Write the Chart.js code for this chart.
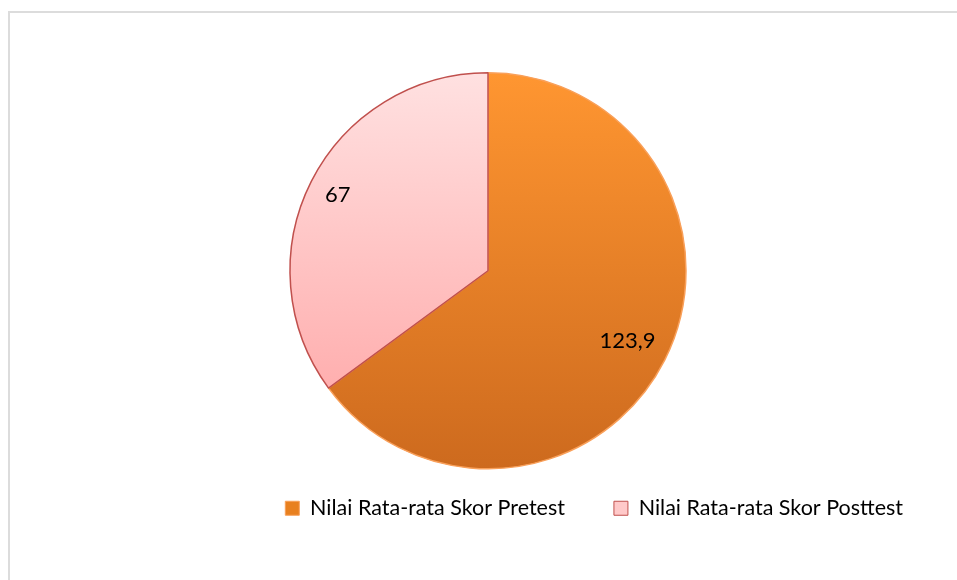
<!DOCTYPE html>
<html>
<head>
<meta charset="utf-8">
<script src="https://cdn.jsdelivr.net/npm/chart.js@4"></script>
<style>
  body { margin: 0; background: #fff; }
  #wrap { position: relative; width: 957px; height: 580px; overflow: hidden; }
  #frame { position: absolute; left: 8px; top: 11px; width: 1000px; height: 1000px; border: 2px solid #dcdcdc; }
  #pie { position: absolute; left: 0; top: 0; }
</style>
</head>
<body>
<div id="wrap">
  <div id="frame"></div>
  <canvas id="pie" width="957" height="580"></canvas>
</div>
<script>
var kategori = ['Nilai Rata-rata Skor Pretest', 'Nilai Rata-rata Skor Posttest'];
var nilai = [123.9, 67];

var warna_atas = ['#ff9631', '#ffe1e1'];
var warna_bawah = ['#cd6a1e', '#ffa2a2'];
var warna_garis = ['#f9a05a', '#c0504d'];
var warna_legend = ['#e8801f', '#ffc9c9'];

function gradien(context) {
    var chart = context.chart;
    var area = chart.chartArea;
    if (!area) return warna_atas[context.dataIndex];
    var g = chart.ctx.createLinearGradient(0, area.top, 0, area.bottom);
    g.addColorStop(0, warna_atas[context.dataIndex]);
    g.addColorStop(1, warna_bawah[context.dataIndex]);
    return g;
}

// posisi label di dalam irisan (rasio jari-jari)
var rasio_label = [0.79, 0.85];

const labelPlugin = {
    id: 'labelNilai',
    afterDatasetsDraw(chart) {
        const ctx = chart.ctx;
        const meta = chart.getDatasetMeta(0);
        ctx.save();
        ctx.font = '22px Lato, sans-serif';
        ctx.fillStyle = '#000';
        ctx.textAlign = 'center';
        ctx.textBaseline = 'middle';
        meta.data.forEach(function (arc, i) {
            const p = arc.getProps(['x', 'y', 'startAngle', 'endAngle', 'outerRadius'], true);
            const sudut = (p.startAngle + p.endAngle) / 2;
            const r = p.outerRadius * rasio_label[i];
            const teks = String(nilai[i]).replace('.', ',');
            ctx.fillText(teks, p.x + Math.cos(sudut) * r, p.y + Math.sin(sudut) * r);
        });
        ctx.restore();
    }
};

// legend dinaikkan sedikit (jarak antar item besar, jarak ke pie kecil)
const geserLegend = {
    id: 'geserLegend',
    afterLayout(chart) {
        chart.legend.top -= 21;
        chart.legend.bottom -= 21;
    }
};

const grafico = document.getElementById('pie');

var myChart = new Chart(grafico, {
    type: 'pie',
    data: {
        labels: kategori,
        datasets: [{
            data: nilai,
            backgroundColor: gradien,
            borderColor: warna_garis,
            borderWidth: 1.5
        }]
    },
    options: {
        responsive: false,
        animation: false,
        layout: {
            padding: { top: 72, left: 24, right: 5, bottom: 30 }
        },
        plugins: {
            tooltip: { enabled: false },
            legend: {
                position: 'bottom',
                align: 'end',
                labels: {
                    color: '#595959',
                    font: { family: 'Lato, sans-serif', size: 21.5 },
                    boxWidth: 14,
                    boxHeight: 14,
                    padding: 49,
                    generateLabels: function (chart) {
                        return kategori.map(function (k, i) {
                            return {
                                text: k,
                                fillStyle: warna_legend[i],
                                strokeStyle: warna_garis[i],
                                lineWidth: 1,
                                index: i
                            };
                        });
                    }
                }
            }
        }
    },
    plugins: [labelPlugin, geserLegend]
});
</script>
</body>
</html>
